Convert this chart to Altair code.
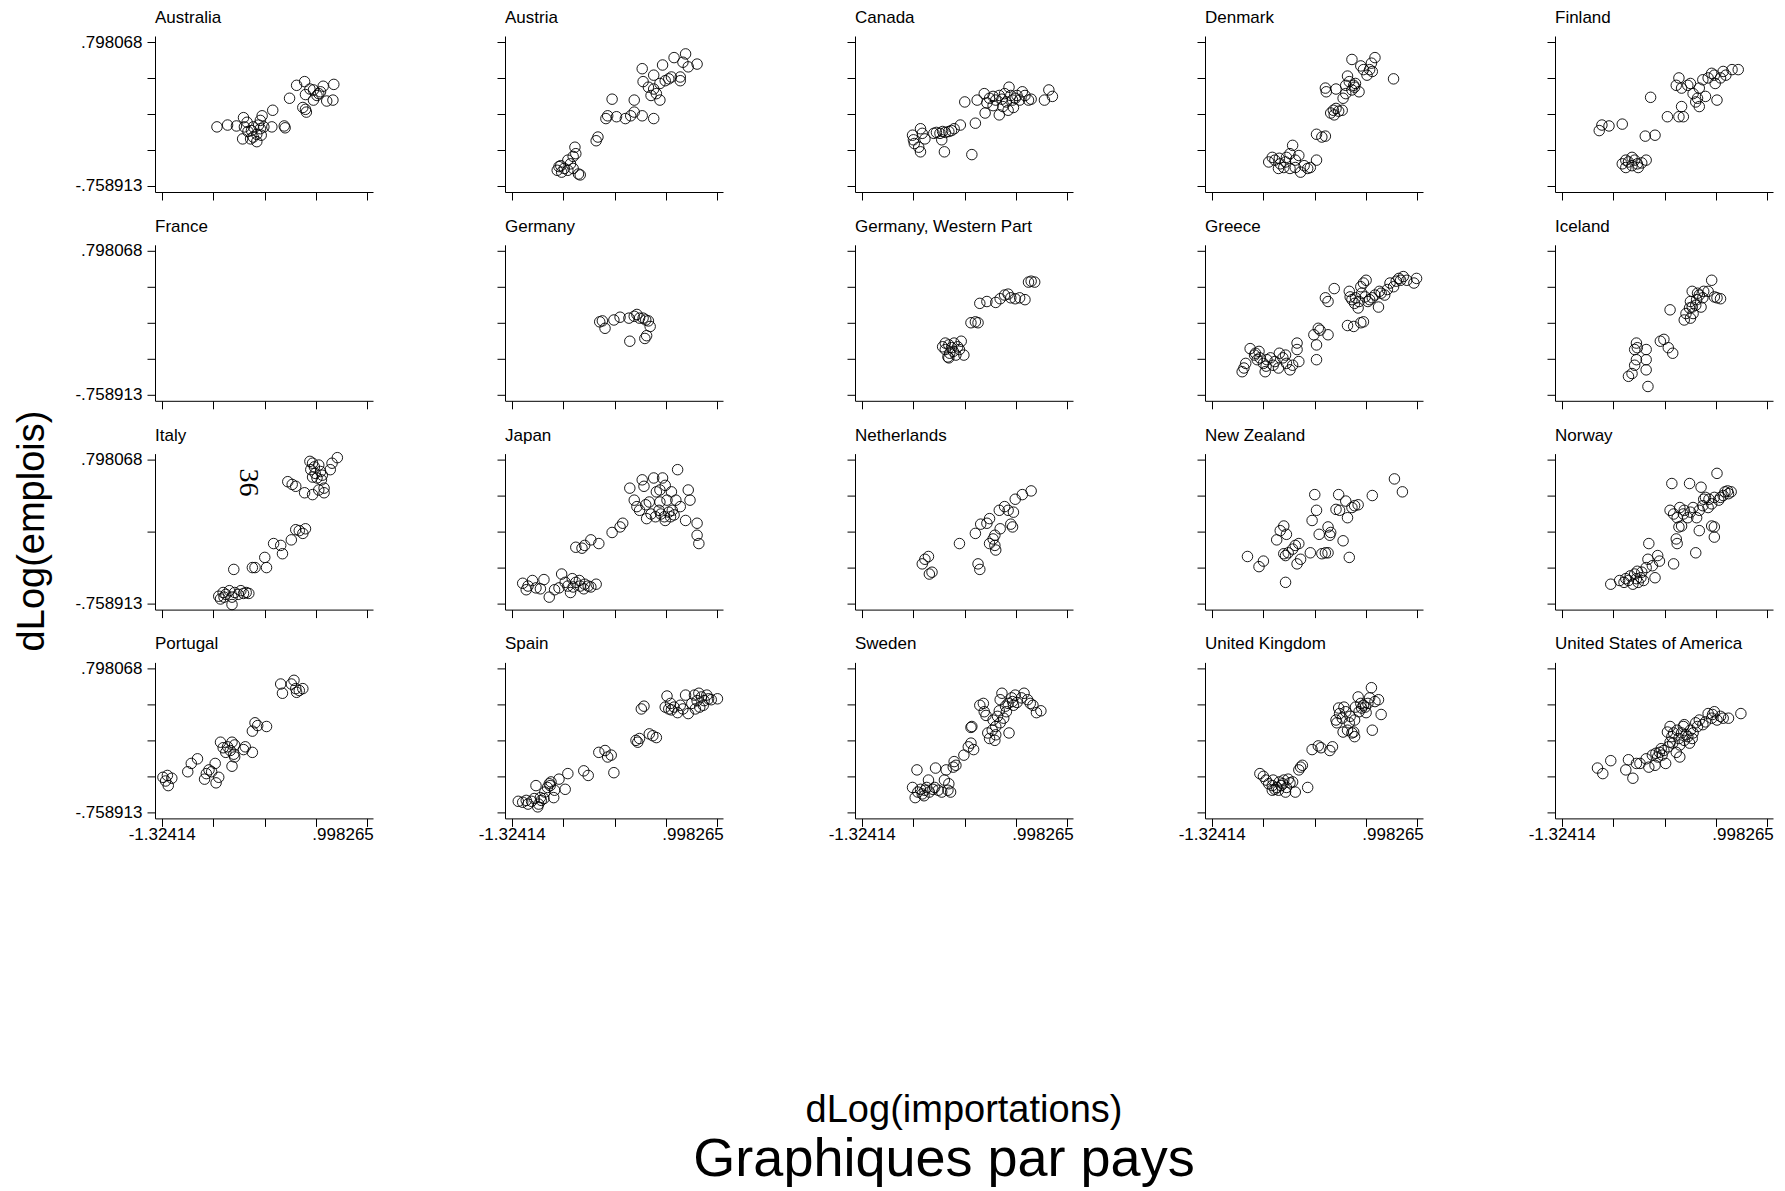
import altair as alt
import pandas as pd

countries = ["Australia", "Austria", "Canada", "Denmark", "Finland",
             "France", "Germany", "Germany, Western Part", "Greece", "Iceland",
             "Italy", "Japan", "Netherlands", "New Zealand", "Norway",
             "Portugal", "Spain", "Sweden", "United Kingdom", "United States of America"]

australia = [(-0.70,-0.12),(-0.58,-0.10),(-0.48,-0.11),(-0.40,-0.02),(-0.39,-0.12),(-0.36,-0.07),(-0.41,-0.25),(-0.31,-0.16),
             (-0.29,-0.12),(-0.25,-0.20),(-0.23,-0.10),(-0.21,-0.14),(-0.20,-0.21),(-0.19,0.00),(-0.17,-0.12),(-0.25,-0.28),
             (-0.32,-0.25),(-0.29,-0.23),(-0.07,0.06),(-0.08,-0.12),(0.06,-0.11),(0.07,-0.13),(-0.21,-0.05),(-0.35,-0.17),
             (0.12,0.19),(0.20,0.33),(0.29,0.37),(0.35,0.29),(0.30,0.23),(0.39,0.28),(0.43,0.22),(0.47,0.26),(0.50,0.32),
             (0.62,0.34),(0.54,0.16),(0.61,0.17),(0.27,0.09),(0.30,0.07),(0.31,0.04),(0.39,0.17),(0.45,0.24)]
austria = [(-0.79,-0.55),(-0.81,-0.59),(-0.76,-0.61),(-0.73,-0.57),(-0.69,-0.59),(-0.66,-0.52),(-0.63,-0.44),(-0.61,-0.34),
           (-0.60,-0.41),(-0.57,-0.63),(-0.55,-0.64),(-0.69,-0.48),(-0.77,-0.54),(-0.63,-0.57),
           (-0.37,-0.27),(-0.35,-0.23),(-0.26,-0.03),(-0.24,0.00),(-0.19,0.18),(-0.14,-0.01),(-0.04,-0.03),(0.02,0.00),
           (0.06,0.17),(0.06,0.04),(0.15,0.00),(0.28,-0.03),
           (0.15,0.51),(0.16,0.37),(0.28,0.44),(0.25,0.22),(0.28,0.29),(0.31,0.24),(0.35,0.17),(0.35,0.35),(0.38,0.55),
           (0.41,0.38),(0.48,0.42),(0.51,0.63),(0.58,0.38),(0.58,0.42),(0.61,0.58),(0.64,0.67),(0.67,0.53),(0.77,0.56),
           (0.22,0.31),(0.45,0.40)]
canada = [(-0.75,-0.21),(-0.74,-0.26),(-0.73,-0.30),(-0.68,-0.34),(-0.66,-0.39),(-0.66,-0.14),(-0.61,-0.25),(-0.64,-0.19),
          (-0.51,-0.19),(-0.48,-0.18),(-0.44,-0.19),(-0.41,-0.17),(-0.38,-0.18),(-0.34,-0.17),(-0.31,-0.16),(-0.28,-0.14),
          (-0.42,-0.26),(-0.39,-0.39),(-0.21,-0.10),(-0.04,-0.08),(-0.08,-0.42),
          (-0.16,0.15),(-0.02,0.17),(0.06,0.24),(0.09,0.14),(0.12,0.19),(0.16,0.21),(0.16,0.11),(0.19,0.17),(0.23,0.22),
          (0.23,0.01),(0.26,0.18),(0.27,0.10),(0.29,0.24),(0.31,0.15),(0.34,0.31),(0.36,0.22),(0.38,0.17),(0.39,0.09),
          (0.41,0.19),(0.43,0.22),(0.46,0.17),(0.49,0.26),(0.52,0.22),(0.56,0.17),(0.59,0.18),(0.74,0.17),(0.79,0.28),
          (0.83,0.21),(0.07,0.03),(0.33,0.06)]
denmark = [(-0.68,-0.50),(-0.64,-0.45),(-0.61,-0.48),(-0.57,-0.57),(-0.55,-0.52),(-0.51,-0.56),(-0.48,-0.45),(-0.44,-0.41),
           (-0.41,-0.32),(-0.44,-0.57),(-0.38,-0.48),(-0.34,-0.43),(-0.32,-0.61),(-0.28,-0.54),(-0.24,-0.57),(-0.21,-0.56),
           (-0.14,-0.48),(-0.56,-0.46),(-0.49,-0.50),(-0.38,-0.56),
           (-0.14,-0.20),(-0.08,-0.23),(-0.04,-0.22),
           (0.02,0.03),(0.05,0.06),(0.08,0.08),(0.11,0.05),(0.15,0.06),(0.06,0.01),
           (-0.04,0.30),(-0.03,0.26),(0.08,0.29),(0.16,0.19),(0.19,0.33),(0.21,0.43),(0.23,0.37),(0.26,0.28),(0.28,0.33),
           (0.29,0.31),(0.30,0.35),(0.34,0.26),(0.36,0.54),(0.39,0.50),(0.43,0.44),(0.46,0.50),(0.48,0.57),(0.52,0.63),
           (0.49,0.48),(0.26,0.61),(0.73,0.40),(0.19,0.24)]
finland = [(-0.90,-0.16),(-0.87,-0.10),(-0.79,-0.11),(-0.64,-0.09),(-0.32,0.20),
           (-0.64,-0.52),(-0.60,-0.48),(-0.57,-0.50),(-0.60,-0.56),(-0.53,-0.54),(-0.50,-0.48),(-0.47,-0.52),(-0.46,-0.56),
           (-0.42,-0.51),(-0.37,-0.48),(-0.53,-0.45),
           (-0.38,-0.22),(-0.27,-0.21),(-0.13,-0.01),(0.00,-0.01),(0.03,0.10),(0.05,-0.01),
           (-0.03,0.33),(0.00,0.41),(0.03,0.30),(0.10,0.33),(0.16,0.24),(0.19,0.15),(0.21,0.19),(0.23,0.30),(0.27,0.39),
           (0.30,0.21),(0.33,0.41),(0.37,0.46),(0.40,0.44),(0.41,0.35),(0.43,0.17),(0.47,0.41),(0.50,0.48),(0.53,0.44),
           (0.60,0.50),(0.67,0.50),(0.23,0.10),(0.13,0.35)]
france = []
germany = [(-0.33,0.03),(-0.30,0.04),(-0.27,-0.04),(-0.17,0.05),(-0.10,0.08),(0.00,0.07),(0.06,0.09),(0.09,0.11),
           (0.12,0.07),(0.16,0.07),(0.19,0.05),(0.22,0.04),(0.24,-0.02),(0.20,-0.12),(0.18,-0.15),(0.01,-0.18)]
germany_west = [(-0.41,-0.24),(-0.38,-0.27),(-0.35,-0.35),(-0.34,-0.22),(-0.33,-0.31),(-0.31,-0.25),(-0.29,-0.29),
                (-0.28,-0.20),(-0.26,-0.33),(-0.24,-0.24),(-0.22,-0.27),(-0.20,-0.18),(-0.17,-0.33),(-0.34,-0.36),
                (-0.38,-0.20),(-0.09,0.02),(-0.04,0.03),(-0.01,0.02),
                (0.01,0.23),(0.09,0.25),(0.19,0.24),(0.24,0.28),(0.29,0.32),(0.33,0.33),(0.36,0.29),(0.41,0.28),
                (0.46,0.29),(0.52,0.27),(0.56,0.46),(0.59,0.47),(0.63,0.46)]
greece = [(-0.98,-0.51),(-0.96,-0.47),(-0.94,-0.42),(-0.89,-0.26),(-0.84,-0.33),(-0.83,-0.31),(-0.81,-0.38),(-0.78,-0.36),
          (-0.74,-0.42),(-0.72,-0.51),(-0.70,-0.38),(-0.66,-0.36),(-0.63,-0.44),(-0.61,-0.40),(-0.57,-0.47),(-0.56,-0.31),
          (-0.52,-0.36),(-0.49,-0.33),(-0.48,-0.42),(-0.44,-0.49),(-0.41,-0.44),(-0.36,-0.27),(-0.34,-0.40),(-0.36,-0.20),
          (-0.79,-0.29),(-0.71,-0.45),
          (-0.14,-0.38),(-0.14,-0.22),(-0.17,-0.11),(-0.12,-0.04),(-0.10,-0.06),(-0.01,-0.11),
          (0.21,-0.01),(0.28,-0.02),(0.36,0.02),(0.39,0.03),
          (-0.04,0.29),(-0.01,0.25),(0.06,0.39),
          (0.23,0.36),(0.24,0.30),(0.26,0.27),(0.29,0.23),(0.30,0.29),(0.33,0.18),(0.34,0.25),(0.36,0.41),(0.37,0.34),
          (0.39,0.45),(0.41,0.30),(0.42,0.48),(0.44,0.25),(0.46,0.27),(0.49,0.29),(0.52,0.32),(0.56,0.19),(0.57,0.36),
          (0.59,0.34),(0.63,0.32),(0.66,0.38),(0.69,0.45),(0.73,0.41),(0.76,0.47),(0.79,0.50),(0.81,0.48),(0.84,0.52),
          (0.88,0.48),(0.96,0.45),(0.99,0.50)]
iceland = [(-0.57,-0.56),(-0.53,-0.53),(-0.50,-0.44),(-0.48,-0.38),(-0.50,-0.27),(-0.48,-0.20),(-0.47,-0.25),(-0.37,-0.27),
           (-0.37,-0.38),(-0.37,-0.49),(-0.35,-0.67),(-0.21,-0.18),(-0.17,-0.16),(-0.12,-0.25),(-0.07,-0.31),(-0.10,0.16),
           (0.06,0.05),(0.08,0.12),(0.12,0.18),(0.13,0.25),(0.13,0.07),(0.15,0.19),(0.16,0.12),(0.19,0.21),(0.20,0.27),
           (0.21,0.34),(0.25,0.19),(0.27,0.29),(0.28,0.36),(0.33,0.36),(0.37,0.48),(0.40,0.30),(0.43,0.29),(0.47,0.28),
           (0.15,0.36),(0.23,0.32)]
italy = [(-0.68,-0.68),(-0.66,-0.71),(-0.63,-0.64),(-0.60,-0.66),(-0.56,-0.62),(-0.53,-0.69),(-0.50,-0.64),(-0.46,-0.66),
         (-0.43,-0.62),(-0.40,-0.65),(-0.37,-0.64),(-0.34,-0.65),(-0.53,-0.77),(-0.62,-0.69),
         (-0.51,-0.39),(-0.30,-0.37),(-0.27,-0.37),(-0.16,-0.26),(-0.14,-0.37),(-0.06,-0.11),(0.02,-0.13),(0.04,-0.22),
         (0.14,-0.07),(0.19,0.04),(0.23,0.03),(0.27,0.00),(0.30,0.05),
         (0.10,0.56),(0.15,0.53),(0.19,0.51),(0.29,0.44),(0.35,0.78),(0.36,0.69),(0.38,0.61),(0.38,0.42),(0.40,0.72),
         (0.41,0.65),(0.43,0.60),(0.45,0.74),(0.47,0.67),(0.48,0.58),(0.49,0.63),(0.51,0.49),(0.51,0.44),(0.58,0.69),
         (0.60,0.76),(0.66,0.82),(0.45,0.47),(0.38,0.76)]
japan = [(-1.20,-0.54),(-1.16,-0.61),(-1.14,-0.57),(-1.09,-0.51),(-1.05,-0.59),(-1.00,-0.60),(-0.96,-0.50),(-0.90,-0.69),
         (-0.84,-0.61),(-0.79,-0.59),(-0.76,-0.44),(-0.72,-0.53),(-0.69,-0.57),(-0.66,-0.64),(-0.63,-0.58),(-0.60,-0.53),
         (-0.56,-0.51),(-0.55,-0.57),(-0.51,-0.60),(-0.50,-0.55),(-0.46,-0.57),(-0.43,-0.58),(-0.37,-0.55),(-0.64,-0.49),
         (-0.60,-0.15),(-0.53,-0.16),(-0.50,-0.13),(-0.43,-0.07),(-0.34,-0.11),(-0.19,0.01),(-0.10,0.07),(-0.07,0.11),
         (0.01,0.49),(0.06,0.36),(0.09,0.29),(0.12,0.25),(0.15,0.58),(0.17,0.51),(0.19,0.31),(0.20,0.16),(0.23,0.34),
         (0.25,0.21),(0.28,0.60),(0.30,0.18),(0.31,0.45),(0.34,0.25),(0.35,0.34),(0.36,0.21),(0.38,0.60),(0.40,0.18),
         (0.41,0.14),(0.43,0.36),(0.45,0.23),(0.47,0.18),(0.48,0.45),(0.49,0.25),(0.51,0.20),(0.53,0.36),(0.55,0.69),
         (0.58,0.29),(0.64,0.14),(0.67,0.47),(0.69,0.36),(0.77,0.11),(0.77,-0.02),(0.79,-0.11),(0.41,0.52),(0.35,0.47)]
netherlands = [(-0.64,-0.33),(-0.61,-0.28),(-0.57,-0.25),(-0.56,-0.44),(-0.53,-0.42),(-0.22,-0.11),(-0.04,0.00),
               (-0.01,-0.33),(0.01,-0.39),(0.02,0.10),(0.09,0.11),(0.12,0.16),(0.12,-0.11),(0.16,-0.06),(0.18,-0.02),
               (0.19,-0.18),(0.23,0.25),(0.24,0.05),(0.29,0.29),(0.33,0.25),(0.36,0.10),(0.38,0.07),(0.39,0.23),
               (0.41,0.37),(0.49,0.42),(0.59,0.46),(0.18,-0.13)]
new_zealand = [(-0.92,-0.25),(-0.79,-0.36),(-0.74,-0.30),(-0.59,-0.07),(-0.55,0.03),(-0.51,0.08),(-0.49,-0.24),
               (-0.48,-0.01),(-0.46,-0.21),(-0.41,-0.17),(-0.38,-0.13),(-0.36,-0.33),(-0.34,-0.11),(-0.32,-0.28),
               (-0.21,-0.21),(-0.19,0.14),(-0.16,0.42),(-0.14,0.25),(-0.11,-0.01),(-0.08,-0.22),(-0.04,-0.21),
               (-0.01,0.07),(0.01,-0.02),(0.02,0.01),(0.08,0.26),(0.11,0.42),(0.12,0.25),(0.16,-0.08),(0.19,0.35),
               (0.21,0.17),(0.23,-0.26),(0.26,0.28),(0.29,0.30),(0.33,0.31),(0.49,0.41),(0.74,0.59),(0.83,0.45),
               (-0.49,-0.53),(-0.01,-0.21),(-0.51,-0.22)]
norway = [(-0.77,-0.55),(-0.67,-0.51),(-0.62,-0.53),(-0.57,-0.51),(-0.55,-0.46),(-0.52,-0.55),(-0.50,-0.44),(-0.48,-0.49),
          (-0.46,-0.53),(-0.43,-0.48),(-0.42,-0.42),(-0.40,-0.51),(-0.37,-0.37),(-0.35,-0.28),(-0.34,-0.11),(-0.30,-0.35),
          (-0.27,-0.48),(-0.24,-0.24),(-0.22,-0.30),(-0.06,-0.33),(-0.60,-0.49),(-0.47,-0.41),
          (-0.03,-0.06),(-0.02,-0.11),(0.00,0.07),(0.03,0.08),(0.19,-0.21),(0.23,0.03),(0.37,0.08),(0.40,0.07),(0.40,-0.04),
          (-0.10,0.25),(-0.08,0.54),(-0.06,0.21),(-0.02,0.17),(0.01,0.28),(0.05,0.21),(0.06,0.25),(0.12,0.54),(0.13,0.23),
          (0.16,0.28),(0.20,0.17),(0.23,0.25),(0.25,0.50),(0.27,0.30),(0.28,0.37),(0.30,0.39),(0.33,0.28),(0.34,0.37),
          (0.37,0.32),(0.40,0.39),(0.43,0.65),(0.45,0.36),(0.47,0.39),(0.50,0.41),(0.52,0.45),(0.55,0.46),(0.56,0.43),
          (0.59,0.45),(0.10,0.17)]
portugal = [(-1.31,-0.38),(-1.28,-0.42),(-1.26,-0.36),(-1.25,-0.47),(-1.21,-0.39),(-1.03,-0.32),(-0.99,-0.23),(-0.92,-0.18),
            (-0.84,-0.40),(-0.82,-0.34),(-0.79,-0.30),(-0.76,-0.32),(-0.72,-0.23),(-0.71,-0.44),(-0.68,-0.38),(-0.66,0.00),
            (-0.63,-0.06),(-0.60,-0.11),(-0.58,-0.05),(-0.55,-0.09),(-0.53,0.00),(-0.51,-0.13),(-0.50,-0.03),(-0.53,-0.26),
            (-0.50,-0.16),(-0.40,-0.08),(-0.38,-0.05),(-0.30,-0.11),(-0.30,0.12),(-0.27,0.21),(-0.24,0.18),(-0.14,0.17),
            (0.02,0.63),(0.04,0.53),(0.14,0.63),(0.17,0.67),(0.19,0.58),(0.20,0.54),(0.23,0.56),(0.27,0.58)]
spain = [(-1.25,-0.64),(-1.20,-0.65),(-1.16,-0.63),(-1.14,-0.67),(-1.10,-0.64),(-1.07,-0.61),(-1.05,-0.47),(-1.03,-0.70),
         (-1.00,-0.60),(-0.99,-0.63),(-0.95,-0.54),(-0.92,-0.49),(-0.90,-0.45),(-0.89,-0.47),(-0.88,-0.43),(-0.85,-0.60),
         (-0.84,-0.52),(-0.79,-0.40),(-0.72,-0.51),(-0.69,-0.34),(-0.51,-0.31),(-0.46,-0.36),(-0.34,-0.11),(-0.27,-0.09),
         (-0.24,-0.16),(-0.20,-0.14),(-0.17,-0.33),(-1.02,-0.67),(-0.96,-0.61),
         (0.08,0.02),(0.10,0.00),(0.12,0.04),(0.23,0.09),(0.27,0.07),(0.31,0.05),(0.14,0.36),(0.17,0.39),
         (0.41,0.38),(0.43,0.50),(0.45,0.36),(0.48,0.35),(0.51,0.38),(0.55,0.32),(0.58,0.40),(0.61,0.36),(0.64,0.51),
         (0.67,0.31),(0.71,0.42),(0.74,0.51),(0.77,0.45),(0.79,0.53),(0.80,0.38),(0.82,0.49),(0.84,0.40),(0.85,0.45),
         (0.88,0.51),(0.90,0.47),(0.93,0.46),(1.00,0.47),(0.75,0.36),(0.47,0.42)]
sweden = [(-0.75,-0.49),(-0.72,-0.60),(-0.70,-0.30),(-0.69,-0.54),(-0.66,-0.51),(-0.64,-0.56),(-0.61,-0.52),(-0.59,-0.49),
          (-0.57,-0.41),(-0.56,-0.54),(-0.52,-0.51),(-0.50,-0.49),(-0.49,-0.28),(-0.46,-0.52),(-0.42,-0.54),(-0.39,-0.41),
          (-0.37,-0.30),(-0.35,-0.52),(-0.32,-0.54),(-0.34,-0.45),(-0.29,-0.27),(-0.28,-0.21),(-0.26,-0.25),(-0.62,-0.58),
          (-0.17,-0.14),(-0.12,-0.05),(-0.09,-0.01),(-0.06,-0.08),(-0.09,0.16),(-0.08,0.17),
          (0.01,0.40),(0.05,0.42),(0.06,0.33),(0.08,0.29),(0.10,0.10),(0.12,0.04),(0.15,0.13),(0.16,0.24),(0.18,0.02),
          (0.19,0.17),(0.21,0.28),(0.23,0.34),(0.24,0.46),(0.24,0.21),(0.26,0.53),(0.28,0.26),(0.30,0.39),(0.31,0.33),
          (0.33,0.42),(0.34,0.10),(0.37,0.48),(0.38,0.44),(0.39,0.40),(0.41,0.51),(0.43,0.43),(0.48,0.48),(0.51,0.53),
          (0.55,0.46),(0.58,0.42),(0.61,0.40),(0.65,0.32),(0.70,0.34),(0.19,0.08)]
united_kingdom = [(-0.78,-0.34),(-0.74,-0.37),(-0.71,-0.41),(-0.68,-0.45),(-0.64,-0.47),(-0.63,-0.41),(-0.61,-0.51),
                  (-0.59,-0.49),(-0.57,-0.52),(-0.56,-0.43),(-0.54,-0.47),(-0.52,-0.45),(-0.51,-0.41),(-0.49,-0.54),
                  (-0.48,-0.49),(-0.46,-0.40),(-0.44,-0.44),(-0.41,-0.43),(-0.38,-0.54),(-0.34,-0.30),(-0.32,-0.27),
                  (-0.30,-0.25),(-0.24,-0.49),(-0.64,-0.52),
                  (-0.19,-0.08),(-0.12,-0.04),(-0.09,-0.06),(0.01,-0.09),(0.04,-0.05),
                  (0.08,0.24),(0.09,0.21),(0.11,0.37),(0.12,0.31),(0.15,0.26),(0.16,0.11),(0.19,0.33),(0.21,0.13),
                  (0.23,0.21),(0.24,0.28),(0.26,0.10),(0.28,0.11),(0.29,0.24),(0.30,0.38),(0.33,0.49),(0.34,0.33),
                  (0.36,0.42),(0.37,0.37),(0.39,0.40),(0.41,0.38),(0.42,0.32),(0.44,0.42),(0.46,0.48),(0.48,0.59),
                  (0.49,0.13),(0.52,0.44),(0.56,0.46),(0.59,0.30),(0.17,0.38),(0.29,0.06)]
united_states = [(-0.92,-0.28),(-0.86,-0.34),(-0.77,-0.20),(-0.60,-0.30),(-0.57,-0.19),(-0.52,-0.39),(-0.48,-0.23),
                 (-0.44,-0.23),(-0.37,-0.18),(-0.30,-0.14),(-0.27,-0.25),(-0.26,-0.12),(-0.24,-0.16),(-0.22,-0.11),
                 (-0.20,-0.07),(-0.19,-0.14),(-0.17,-0.09),(-0.15,-0.23),(-0.13,0.11),(-0.12,-0.05),(-0.10,0.00),
                 (-0.08,0.06),(-0.07,-0.01),(-0.06,0.10),(-0.03,-0.11),(-0.02,0.13),(0.00,0.04),(0.01,-0.03),
                 (0.03,0.10),(0.05,0.17),(0.06,0.02),(0.08,0.08),(0.10,0.06),(0.12,-0.01),(0.13,0.13),(0.15,0.04),
                 (0.16,0.10),(0.19,0.21),(0.21,0.17),(0.23,0.24),(0.27,0.19),(0.30,0.22),(0.33,0.31),(0.37,0.26),
                 (0.38,0.30),(0.40,0.33),(0.43,0.24),(0.47,0.28),(0.50,0.26),(0.56,0.26),(0.70,0.31),(0.01,-0.16),
                 (-0.34,-0.27),(-0.10,0.17),(0.06,0.19)]

series = [australia, austria, canada, denmark, finland,
          france, germany, germany_west, greece, iceland,
          italy, japan, netherlands, new_zealand, norway,
          portugal, spain, sweden, united_kingdom, united_states]

x_ticks = [-1.32414, -0.74353875, -0.1629375, 0.41766375, 0.998265]
y_ticks = [-0.758913, -0.36966775, 0.0195775, 0.40882275, 0.798068]
x_tick_labels = ["-1.32414", "", "", "", ".998265"]
y_tick_labels = ["-.758913", "", "", "", ".798068"]
x_domain = [-1.3999, 1.0627]
y_domain = [-0.825, 0.864]

italy_label_x = [-0.35]
italy_label_y = [0.55]
italy_label_text = ["36"]

y_title = "dLog(emplois)"
x_title = "dLog(importations)"
note_title = "Graphiques par pays"

rows = []
for name, pts in zip(countries, series):
    for px, py in pts:
        rows.append({"country": name, "x": px, "y": py})
df = pd.DataFrame(rows)
one = pd.DataFrame({"k": [0]})
italy_df = pd.DataFrame({"x": italy_label_x, "y": italy_label_y, "label": italy_label_text})

FONT = "Liberation Sans"
W, H = 218, 156

x_label_expr = ("datum.value < -1 ? '%s' : datum.value > 0.9 ? '%s' : ''"
                % (x_tick_labels[0], x_tick_labels[-1]))
y_label_expr = ("datum.value < -0.7 ? '%s' : datum.value > 0.7 ? '%s' : ''"
                % (y_tick_labels[0], y_tick_labels[-1]))

panels = []
for i, name in enumerate(countries):
    r, c = divmod(i, 5)
    xaxis = alt.Axis(values=x_ticks, labels=(r == 3), labelExpr=x_label_expr, title=None,
                     tickSize=8, labelPadding=0, labelFlush=False, labelOverlap=False,
                     labelAlign={"condition": {"test": "datum.value > 0.9", "value": "right"}, "value": "center"},
                     labelOffset={"condition": {"test": "datum.value > 0.9", "value": 6}, "value": 0})
    yaxis = alt.Axis(values=y_ticks, labels=(c == 0), labelExpr=y_label_expr, title=None,
                     tickSize=8, labelPadding=5, labelFlush=False, labelOverlap=False, labelAngle=0)
    pts = alt.Chart(df).transform_filter(alt.datum.country == name).mark_point(
        shape="circle", filled=False, color="black", stroke="black", strokeWidth=0.9, size=110, opacity=1
    ).encode(
        x=alt.X("x:Q", scale=alt.Scale(domain=x_domain, nice=False, zero=False), axis=xaxis),
        y=alt.Y("y:Q", scale=alt.Scale(domain=y_domain, nice=False, zero=False), axis=yaxis),
    )
    ttl = alt.Chart(one).mark_text(text=name, align="left", baseline="alphabetic", font=FONT,
                                   fontSize=17, color="black").encode(x=alt.value(0), y=alt.value(-13))
    layers = [pts, ttl]
    if name == "Italy":
        layers.append(alt.Chart(italy_df).mark_text(angle=90, font="Liberation Serif", fontSize=28,
                                                    color="black", baseline="middle", align="center").encode(
            x="x:Q", y="y:Q", text="label:N"))
    if i == 0:
        layers.append(alt.Chart(one).mark_square(size=1, opacity=0).encode(
            x=alt.value(-154.5), y=alt.value(-35.5)))
        layers.append(alt.Chart(one).mark_text(text=y_title, angle=270, align="center", baseline="alphabetic",
                                               font=FONT, fontSize=38, color="black").encode(
            x=alt.value(-111), y=alt.value(495)))
        layers.append(alt.Chart(one).mark_text(text=x_title, align="center", baseline="alphabetic",
                                               font=FONT, fontSize=38, color="black").encode(
            x=alt.value(809), y=alt.value(1086)))
        layers.append(alt.Chart(one).mark_text(text=note_title, align="center", baseline="alphabetic",
                                               font=FONT, fontSize=54, color="black").encode(
            x=alt.value(789), y=alt.value(1140)))
    panels.append(alt.layer(*layers).properties(width=W, height=H))

chart = alt.concat(*panels, columns=5, spacing={"row": 52.8, "column": 132}, bounds="flush").properties(
    padding=0, background="white"
).configure_view(stroke=None).configure_axis(
    grid=False, domainColor="black", tickColor="black", labelColor="black", labelFont=FONT,
    labelFontSize=17, domainWidth=1, tickWidth=1
)

chart.save("out.html", embed_options={"renderer": "svg", "actions": False})
